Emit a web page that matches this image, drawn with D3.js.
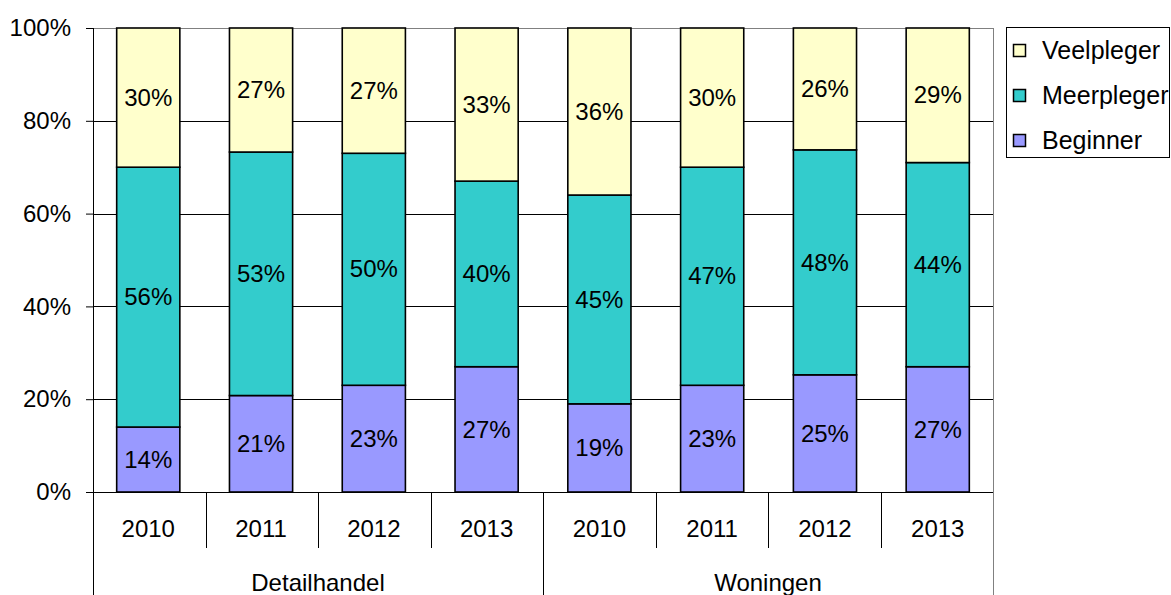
<!DOCTYPE html>
<meta charset="utf-8">
<body style="margin:0;background:#fff">
<script src="https://cdnjs.cloudflare.com/ajax/libs/d3/7.8.5/d3.min.js"></script>
<script>
var groups = ["Detailhandel", "Woningen"];
var years = ["2010", "2011", "2012", "2013"];
var series = ["Beginner", "Meerpleger", "Veelpleger"];
var beginner = [14, 21, 23, 27, 19, 23, 25, 27];
var meerpleger = [56, 53, 50, 40, 45, 47, 48, 44];
var veelpleger = [30, 27, 27, 33, 36, 30, 26, 29];
var yTicks = [0, 20, 40, 60, 80, 100];
var colors = {Beginner: "#9999ff", Meerpleger: "#33cccc", Veelpleger: "#ffffcc"};

var width = 1171, height = 595;
var plotLeft = 93, plotRight = 993, plotTop = 28, plotBottom = 492;
var font = "'Liberation Sans', Arial, sans-serif";
var fs = "24px";

var svg = d3.select("body").append("svg")
  .attr("width", width)
  .attr("height", height)
  .style("font-family", font);

// one row per bar
var rows = [];
groups.forEach(function(g, gi) {
  years.forEach(function(yr, yi) {
    var i = gi * years.length + yi;
    rows.push({key: g + " " + yr, group: g, year: yr,
      Beginner: beginner[i], Meerpleger: meerpleger[i], Veelpleger: veelpleger[i]});
  });
});

var x = d3.scaleBand()
  .domain(rows.map(function(d) { return d.key; }))
  .range([plotLeft, plotRight])
  .paddingInner(0.44)
  .paddingOuter(0.21);

var y = d3.scaleLinear().domain([0, 100]).range([plotBottom, plotTop]);

// gridlines
svg.append("g").selectAll("line")
  .data(yTicks.filter(function(t) { return t > 0; }))
  .enter().append("line")
  .attr("x1", plotLeft).attr("x2", plotRight)
  .attr("y1", function(d) { return Math.round(y(d)) + 0.5; })
  .attr("y2", function(d) { return Math.round(y(d)) + 0.5; })
  .attr("stroke", function(d) { return d == 100 ? "#808080" : "#000"; })
  .attr("stroke-width", 1);

// right plot border
svg.append("line")
  .attr("x1", plotRight + 0.5).attr("x2", plotRight + 0.5).attr("y1", plotTop).attr("y2", plotBottom)
  .attr("stroke", "#808080");

// normalise to 100%
var stacked = d3.stack().keys(series).offset(d3.stackOffsetExpand)(rows);

var layer = svg.append("g").selectAll("g")
  .data(stacked)
  .enter().append("g")
  .attr("fill", function(d) { return colors[d.key]; });

layer.selectAll("rect")
  .data(function(d) { return d; })
  .enter().append("rect")
  .attr("x", function(d) { return x(d.data.key); })
  .attr("width", x.bandwidth())
  .attr("y", function(d) { return y(d[1] * 100); })
  .attr("height", function(d) { return y(d[0] * 100) - y(d[1] * 100); })
  .attr("stroke", "#000")
  .attr("stroke-width", 1.6);

layer.selectAll("text")
  .data(function(d) { return d.map(function(p) { p.serie = d.key; return p; }); })
  .enter().append("text")
  .attr("x", function(d) { return x(d.data.key) + x.bandwidth() / 2; })
  .attr("y", function(d) { return (y(d[0] * 100) + y(d[1] * 100)) / 2; })
  .attr("dy", "0.34em")
  .attr("text-anchor", "middle")
  .attr("fill", "#000")
  .style("font-size", fs)
  .text(function(d) { return d.data[d.serie] + "%"; });

// y axis
var yAxis = svg.append("g")
  .attr("transform", "translate(" + plotLeft + ",0)")
  .call(d3.axisLeft(y).tickValues(yTicks).tickSize(7).tickPadding(15)
    .tickFormat(function(d) { return d + "%"; }));
yAxis.select(".domain").remove();
yAxis.selectAll("text").style("font-size", fs).style("font-family", font).attr("fill", "#000");
yAxis.selectAll("line").attr("stroke", "#000");

svg.append("line")
  .attr("x1", plotLeft + 0.5).attr("x2", plotLeft + 0.5).attr("y1", plotTop).attr("y2", height)
  .attr("stroke", "#000");

// x axis
svg.append("line")
  .attr("x1", plotLeft).attr("x2", plotRight).attr("y1", plotBottom + 0.5).attr("y2", plotBottom + 0.5)
  .attr("stroke", "#000");

var bandLeft = function(i) { return plotLeft + i * (plotRight - plotLeft) / rows.length; };

svg.append("g").selectAll("line")
  .data(d3.range(1, rows.length + 1))
  .enter().append("line")
  .attr("x1", function(i) { return Math.round(bandLeft(i)) + 0.5; })
  .attr("x2", function(i) { return Math.round(bandLeft(i)) + 0.5; })
  .attr("y1", plotBottom)
  .attr("y2", function(i) { return i % years.length == 0 ? height : 548; })
  .attr("stroke", function(i) { return i == rows.length ? "#808080" : "#000"; });

svg.append("g").selectAll("text")
  .data(rows)
  .enter().append("text")
  .attr("x", function(d) { return x(d.key) + x.bandwidth() / 2; })
  .attr("y", 537)
  .attr("text-anchor", "middle")
  .style("font-size", fs)
  .text(function(d) { return d.year; });

svg.append("g").selectAll("text")
  .data(groups)
  .enter().append("text")
  .attr("x", function(d, i) { return (bandLeft(i * years.length) + bandLeft((i + 1) * years.length)) / 2; })
  .attr("y", 591)
  .attr("text-anchor", "middle")
  .style("font-size", fs)
  .text(function(d) { return d; });

// legend
var legend = svg.append("g");
legend.append("rect")
  .attr("x", 1006.5).attr("y", 27.5).attr("width", 163).attr("height", 130)
  .attr("fill", "#fff").attr("stroke", "#000");

var legendItems = series.slice().reverse();
var item = legend.selectAll(".item")
  .data(legendItems)
  .enter().append("g")
  .attr("transform", function(d, i) { return "translate(1013," + (50 + i * 45) + ")"; });

item.append("rect")
  .attr("x", 0.5).attr("y", -5.5).attr("width", 12).attr("height", 12)
  .attr("fill", function(d) { return colors[d]; })
  .attr("stroke", "#000").attr("stroke-width", 1.5);

item.append("text")
  .attr("x", 29).attr("dy", "0.36em")
  .style("font-size", "25px")
  .text(function(d) { return d; });
</script>
</body>
